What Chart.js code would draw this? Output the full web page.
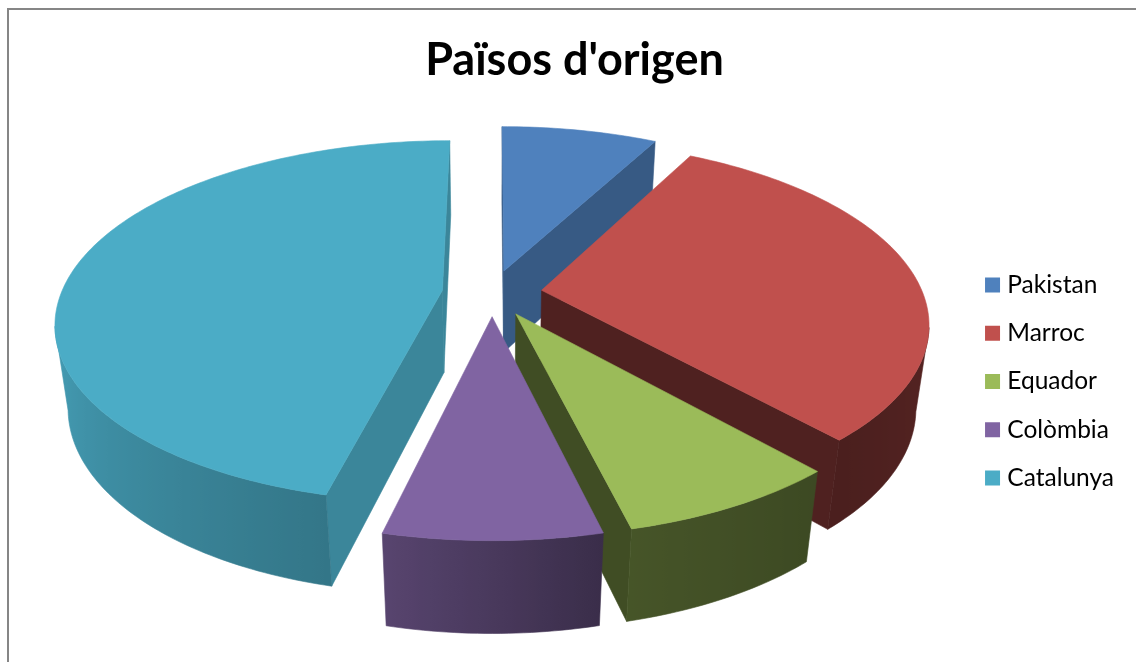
<!DOCTYPE html>
<html><head><meta charset="utf-8">
<style>html,body{margin:0;padding:0;background:#fff}canvas{display:block}</style>
<script src="https://cdn.jsdelivr.net/npm/chart.js@4"></script>
</head><body>
<canvas id="c" width="1136" height="662"></canvas>
<script>
const categories = ["Pakistan","Marroc","Equador","Colòmbia","Catalunya"];
const values = [7.8, 30.6, 7.8, 7.55, 46.25];
const colors = ["#4F81BD","#C0504D","#9BBB59","#8064A2","#4BACC6"];
const chartTitle = "Països d'origen";

// projective view of the pie plane
const view = {cx:492, cy:293, A:385, B:178, p:0.174, q:0.03, D:85, explode:0.13, rim:0.99};
const faceShade = [[0.70,0.70],[0.41,0.41],[0.41,0.41],[0.45,0.69],[0.78,0.78]];
const drawOrder = [0,4,1,2,3];
const rimStops = [[0,.45],[90,.47],[138,.39],[166,.45],[194,.69],[230,.82],[270,.97],[360,1]];

function proj(u,v,z){
  const w = 1 - view.p*v + view.q*z;
  return [view.cx + view.A*u/w, view.cy + (view.B*v + view.D*z)/w];
}
function rimShade(deg){
  for(let i=1;i<rimStops.length;i++){
    if(deg<=rimStops[i][0]){
      const a=rimStops[i-1], b=rimStops[i], t=(deg-a[0])/(b[0]-a[0]);
      return a[1]+(b[1]-a[1])*t;
    }
  }
  return 1;
}
function shade(hex,f){
  const n=parseInt(hex.slice(1),16);
  return `rgb(${Math.round((n>>16&255)*f)},${Math.round((n>>8&255)*f)},${Math.round((n&255)*f)})`;
}
function poly(ctx,pts,col){
  ctx.beginPath();
  pts.forEach((p,i)=> i?ctx.lineTo(p[0],p[1]):ctx.moveTo(p[0],p[1]));
  ctx.closePath();
  ctx.fillStyle=col; ctx.fill();
  ctx.strokeStyle=col; ctx.lineWidth=0.6; ctx.stroke();
}
const pie3d = {
  id:'pie3d',
  beforeDraw(chart){
    const ctx=chart.ctx;
    ctx.save();
    ctx.fillStyle='#868686';
    ctx.fillRect(7,8,chart.width-7,2);
    ctx.fillRect(7,8,2,chart.height-8);
    ctx.restore();
  },
  beforeDatasetsDraw(chart){
    const ctx=chart.ctx, arcs=chart.getDatasetMeta(0).data;
    ctx.save();
    drawOrder.forEach(i=>{
      const a=arcs[i].getProps(['startAngle','endAngle','outerRadius']);
      const col=colors[i];
      const s=a.startAngle+Math.PI/2, e=a.endAngle+Math.PI/2;
      const mid=(s+e)/2;
      const ax=Math.sin(mid)*view.explode, ay=-Math.cos(mid)*view.explode;
      const pt=(t)=>[ax+view.rim*Math.sin(t), ay-view.rim*Math.cos(t)];
      const camV=1/view.p;
      // cut faces, drawn only when they turn towards the camera
      [[s,-1,0],[e,1,1]].forEach(([t,sign,k])=>{
        const tx=Math.cos(t)*sign, ty=Math.sin(t)*sign;
        if(tx*(0-ax)+ty*(camV-ay)>0){
          const r=pt(t);
          poly(ctx,[proj(ax,ay,0),proj(r[0],r[1],0),proj(r[0],r[1],1),proj(ax,ay,1)],shade(col,faceShade[i][k]));
        }
      });
      // rim wall: one polygon with a gradient along the screen
      const steps=Math.max(16,Math.round((e-s)*60));
      const vis=[];
      for(let j=0;j<=steps;j++){
        const t=s+(e-s)*j/steps, r=pt(t);
        if(Math.sin(t)*(0-r[0])+(-Math.cos(t))*(camV-r[1])>0) vis.push(t);
      }
      if(vis.length>1){
        const up=vis.map(t=>{const r=pt(t);return proj(r[0],r[1],0);});
        const dn=vis.map(t=>{const r=pt(t);return proj(r[0],r[1],1);});
        const xs=up.map(p=>p[0]);
        const x0=Math.min(...xs), x1=Math.max(...xs);
        const g=ctx.createLinearGradient(x0,0,x1,0);
        vis.forEach((t,j)=>{
          g.addColorStop(Math.min(1,Math.max(0,(xs[j]-x0)/(x1-x0))),shade(col,rimShade(t*180/Math.PI)));
        });
        poly(ctx,up.concat(dn.reverse()),g);
      }
      // top surface
      const top=[proj(ax,ay,0)];
      const n=Math.max(12,Math.round((e-s)*60));
      for(let j=0;j<=n;j++){const q=pt(s+(e-s)*j/n); top.push(proj(q[0],q[1],0));}
      poly(ctx,top,col);
    });
    ctx.restore();
    return false;
  }
};
new Chart(document.getElementById('c'),{
  type:'pie',
  data:{labels:categories,datasets:[{data:values,backgroundColor:colors,borderWidth:0,offset:30}]},
  options:{
    responsive:false,animation:false,
    layout:{padding:{left:25,right:12,top:0,bottom:6}},
    plugins:{
      title:{display:true,text:chartTitle,color:'#000',font:{family:'Lato',size:45,weight:'bold'},padding:{top:33,bottom:20}},
      legend:{position:'right',fullSize:false,
        labels:{color:'#000',font:{family:'Lato',size:24.5},boxWidth:5,boxHeight:5,padding:23.8,
          generateLabels(chart){
            return Chart.overrides.doughnut.plugins.legend.labels.generateLabels(chart).map(l=>{
              l.lineWidth=10; l.strokeStyle=l.fillStyle; return l;
            });
          }}},
      tooltip:{enabled:false}
    }
  },
  plugins:[pie3d]
});
</script>
</body></html>
